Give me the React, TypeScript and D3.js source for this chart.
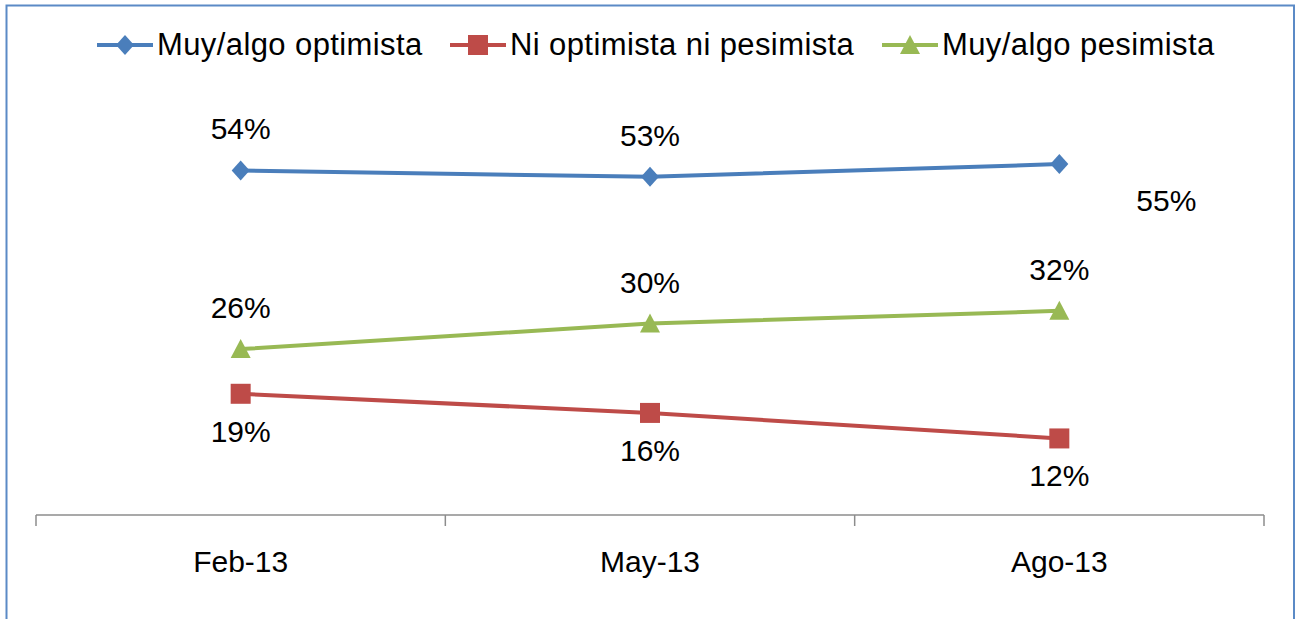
import * as d3 from 'd3'

const categories = ['Feb-13', 'May-13', 'Ago-13']
const seriesNames = ['Muy/algo optimista', 'Ni optimista ni pesimista', 'Muy/algo pesimista']
const optimista = [54, 53, 55]
const neutral = [19, 16, 12]
const pesimista = [26, 30, 32]

const W = 1299
const H = 619
const FONT = 'Arial, "Liberation Sans", sans-serif'

const series = [
  { name: seriesNames[0], values: optimista, color: '#4A7EBB', marker: 'diamond', dy: [-31, -31, 47], dx: [0, 0, 107] },
  { name: seriesNames[1], values: neutral, color: '#BE4B48', marker: 'square', dy: [48, 48, 48], dx: [0, 0, 0] },
  { name: seriesNames[2], values: pesimista, color: '#98B954', marker: 'triangle', dy: [-31, -31, -31], dx: [0, 0, 0] },
]

function Marker({ type, x, y, color }: { type: string; x: number; y: number; color: string }) {
  if (type === 'diamond') {
    return <path d={`M${x},${y - 10}L${x + 9},${y}L${x},${y + 10}L${x - 9},${y}Z`} fill={color} />
  }
  if (type === 'square') {
    return <rect x={x - 10} y={y - 10} width={20} height={20} fill={color} />
  }
  return <path d={`M${x},${y - 10}L${x + 10},${y + 9}L${x - 10},${y + 9}Z`} fill={color} />
}

export default function App() {
  const margin = { left: 36, right: 35, top: 68, bottom: 104 }
  const x = d3.scaleBand().domain(categories).range([margin.left, W - margin.right])
  const y = d3.scaleLinear().domain([0, 70]).range([H - margin.bottom, H - margin.bottom - 70 * 6.38])
  const cx = (c: string) => (x(c) ?? 0) + x.bandwidth() / 2
  const y0 = y(0)
  const line = d3.line<number>().x((_, i) => cx(categories[i])).y(d => y(d))
  const ticks = [...categories.map(c => x(c) ?? 0), W - margin.right]
  const legendX = [97, 450, 882]

  return (
    <svg width={W} height={H} style={{ position: 'absolute', left: 0, top: 0, background: '#fff' }}
      fontFamily={FONT}>
      <rect x={0} y={0} width={W} height={H} fill="#fff" />
      <path d={`M6.5,${H}V5.5H1294V${H}`} fill="none" stroke="#5B8AC6" strokeWidth={2} />

      {/* legend */}
      {series.map((s, i) => (
        <g key={s.name} transform={`translate(${legendX[i]},45)`}>
          <line x1={0} x2={56} y1={0} y2={0} stroke={s.color} strokeWidth={4} />
          <Marker type={s.marker} x={28} y={0} color={s.color} />
          <text x={60} y={10} fontSize={31} letterSpacing={0.4} fill="#000">{s.name}</text>
        </g>
      ))}

      {/* axis */}
      <line x1={margin.left} x2={W - margin.right} y1={y0} y2={y0} stroke="#8C8C8C" strokeWidth={1.5} />
      {ticks.map((t, i) => (
        <line key={i} x1={t} x2={t} y1={y0} y2={y0 + 11} stroke="#8C8C8C" strokeWidth={1.5} />
      ))}
      {categories.map(c => (
        <text key={c} x={cx(c)} y={572} textAnchor="middle" fontSize={30} fill="#000">{c}</text>
      ))}

      {/* series */}
      {series.map(s => (
        <g key={s.name}>
          <path d={line(s.values) ?? ''} fill="none" stroke={s.color} strokeWidth={4} />
          {s.values.map((v, i) => (
            <Marker key={i} type={s.marker} x={cx(categories[i])} y={y(v)} color={s.color} />
          ))}
          {s.values.map((v, i) => (
            <text key={'l' + i} x={cx(categories[i]) + s.dx[i]} y={y(v) + s.dy[i]} textAnchor="middle"
              fontSize={30} fill="#000">{v}%</text>
          ))}
        </g>
      ))}
    </svg>
  )
}
